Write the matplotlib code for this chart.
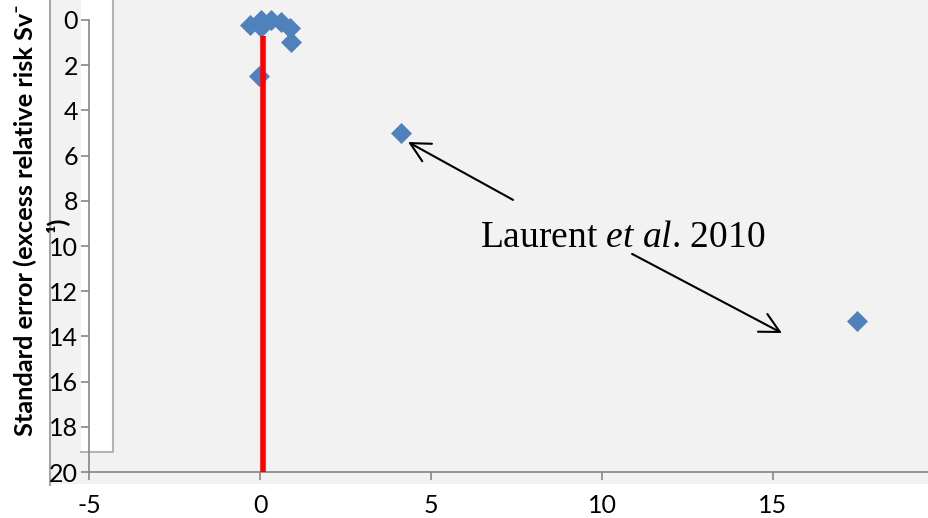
import matplotlib.pyplot as plt
from matplotlib.lines import Line2D
from matplotlib.patches import Rectangle

# excess relative risk estimates vs their standard errors
err_estimate = [-0.29, 0.03, 0.03, 0.32, 0.61, 0.88, 0.91, -0.03, 4.12, 17.46]
std_error = [0.22, 0.0, 0.31, 0.0, 0.09, 0.35, 0.97, 2.48, 5.0, 13.32]
ref_x = [0.1, 0.1]
ref_y = [0.7, 20]
x_ticks = [-5, 0, 5, 10, 15]
y_ticks = list(range(0, 21, 2))
ylabel_lines = ["Standard error (excess relative risk Sv\u207b", "\u00b9)"]
note = r"Laurent $\mathit{et\ al}$. 2010"

plt.rcParams['mathtext.fontset'] = 'custom'
plt.rcParams['mathtext.rm'] = 'Liberation Serif'
plt.rcParams['mathtext.it'] = 'Liberation Serif:italic'
plt.rcParams['axes.unicode_minus'] = False

W, H = 929, 518
fig = plt.figure(figsize=(W / 100, H / 100), dpi=100)

# excel plot area + stray white box on the left
fig.patches.append(Rectangle((50 / W, 1 - 484 / H), (W - 50) / W, 484 / H, transform=fig.transFigure,
                             facecolor='#f2f2f2', edgecolor='none', zorder=-3))
fig.lines.append(Line2D([50 / W, 50 / W], [1 - 485 / H, 1.01], transform=fig.transFigure,
                        color='#a6a6a6', lw=1.5, zorder=-2))
fig.patches.append(Rectangle((81 / W, 1 - 452 / H), 32 / W, 452 / H + 0.05, transform=fig.transFigure,
                             facecolor='white', edgecolor='none', zorder=-2))
fig.lines.append(Line2D([81 / W, 113 / W, 113 / W], [1 - 452 / H, 1 - 452 / H, 1.01],
                        transform=fig.transFigure, color='#b3b3b3', lw=1.5, zorder=-1))

ax = fig.add_axes([89 / W, 1 - 472 / H, 840 / W, 452 / H])
ax.patch.set_visible(False)
ax.set_xlim(-5, -5 + 840 / 34.2)
ax.set_ylim(20, 0)
for s in ('top', 'right'):
    ax.spines[s].set_visible(False)
for s in ('left', 'bottom'):
    ax.spines[s].set_color('#868686')
    ax.spines[s].set_linewidth(1.2)
ax.set_xticks(x_ticks)
ax.set_yticks(y_ticks)
ax.tick_params(direction='out', length=6, width=1.2, color='#868686', labelsize=18)
ax.tick_params(axis='x', pad=10)
ax.tick_params(axis='y', pad=2)
for lab in ax.get_xticklabels() + ax.get_yticklabels():
    lab.set_fontfamily('Lato')

ax.plot(err_estimate, std_error, 'D', ms=10, color='#4f81bd', mec='#4f81bd', mew=0.5,
        clip_on=False, zorder=3)
ax.plot(ref_x, ref_y, color='red', lw=4, solid_capstyle='butt', clip_on=False, zorder=4)

ax.text(6.43, 10.04, note, fontsize=27, family='Liberation Serif', ha='left', va='baseline')
arrow = dict(arrowstyle='->,head_length=0.7,head_width=0.36', color='black', lw=1.5,
             mutation_scale=20, shrinkA=0, shrinkB=0)
ax.annotate('', xy=(4.33, 5.40), xytext=(7.40, 7.96), arrowprops=arrow)
ax.annotate('', xy=(15.26, 13.85), xytext=(10.88, 10.35), arrowprops=arrow)

# wrapped y label, second line sits over the tick labels like in the excel original
lab_font = dict(rotation=90, ha='center', va='center', fontsize=18.3, fontweight='bold',
                family=['Lato', 'DejaVu Sans'])
fig.text(25 / W, 1 - 220 / H, ylabel_lines[0], **lab_font)
fig.text(57 / W, 1 - 224 / H, ylabel_lines[1], **lab_font)

fig.savefig('out.png', dpi=100)
